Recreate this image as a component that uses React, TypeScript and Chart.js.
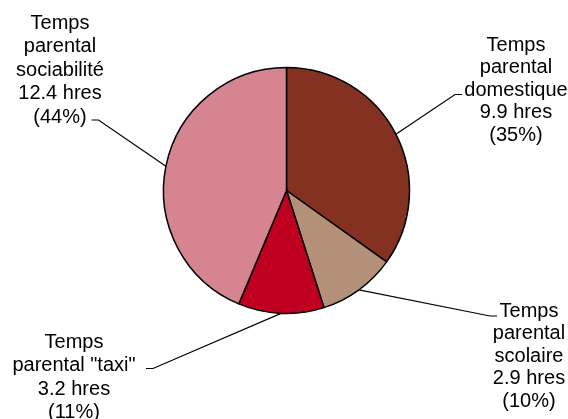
import React, { useEffect, useRef } from "react";
import { Chart, registerables } from "chart.js";

Chart.register(...registerables);

// Data
const categories = ["domestique", "scolaire", "taxi", "sociabilité"];
const labelNames: string[][] = [
  ["Temps", "parental", "domestique"],
  ["Temps", "parental", "scolaire"],
  ["Temps", "parental \"taxi\""],
  ["Temps", "parental", "sociabilité"],
];
const hoursValues = [9.9, 2.9, 3.2, 12.4];
const sliceColors = ["#853122", "#B59078", "#C00020", "#D68490"];

// Layout of the callout labels (positions only)
const labelLayout = [
  { elbow: [455, 94.5], end: [462, 94.5], textX: 516, firstY: 45, lineH: 22.5 },
  { elbow: [490, 316], end: [497, 316], textX: 529, firstY: 311, lineH: 22.5 },
  { elbow: [153, 368.5], end: [146, 368.5], textX: 74, firstY: 342, lineH: 23.5 },
  { elbow: [98.5, 120], end: [91.5, 120], textX: 60, firstY: 23, lineH: 23.5 },
];

const calloutPlugin = {
  id: "callouts",
  afterDraw(chart: any) {
    const ctx = chart.ctx;
    const meta = chart.getDatasetMeta(0);
    const data = chart.data.datasets[0].data as number[];
    const total = data.reduce((a, b) => a + b, 0);
    ctx.save();
    meta.data.forEach((arc: any, i: number) => {
      const p = arc.getProps(["x", "y", "startAngle", "endAngle", "outerRadius"], true);
      const mid = (p.startAngle + p.endAngle) / 2;
      const sx = p.x + Math.cos(mid) * p.outerRadius;
      const sy = p.y + Math.sin(mid) * p.outerRadius;
      const L = labelLayout[i];
      ctx.beginPath();
      ctx.strokeStyle = "#000";
      ctx.lineWidth = 1.2;
      ctx.moveTo(sx, sy);
      ctx.lineTo(L.elbow[0], L.elbow[1]);
      ctx.lineTo(L.end[0], L.end[1]);
      ctx.stroke();

      const pct = Math.round((data[i] / total) * 100);
      const lines = [...labelNames[i], `${data[i].toFixed(1)} hres`, `(${pct}%)`];
      ctx.fillStyle = "#000";
      ctx.font = '20px "Liberation Sans", Arial, sans-serif';
      ctx.textAlign = "center";
      ctx.textBaseline = "middle";
      lines.forEach((t, k) => {
        ctx.fillText(t, L.textX, L.firstY + k * L.lineH);
      });
    });
    ctx.restore();
  },
};

export default function App() {
  const canvasRef = useRef<HTMLCanvasElement | null>(null);

  useEffect(() => {
    if (!canvasRef.current) return;
    const chart = new Chart(canvasRef.current, {
      type: "pie",
      data: {
        labels: categories,
        datasets: [
          {
            data: hoursValues,
            backgroundColor: sliceColors,
            borderColor: "#000",
            borderWidth: 1.5,
            radius: 123,
          },
        ],
      },
      options: {
        animation: false,
        responsive: true,
        maintainAspectRatio: false,
        layout: { padding: { left: 5, right: 0, top: 0, bottom: 38 } },
        plugins: {
          legend: { display: false },
          tooltip: { enabled: false },
        },
      },
      plugins: [calloutPlugin],
    });
    return () => chart.destroy();
  }, []);

  return (
    <div
      style={{
        position: "absolute",
        left: 0,
        top: 0,
        width: 568,
        height: 419,
        background: "#fff",
      }}
    >
      <canvas ref={canvasRef} />
    </div>
  );
}
